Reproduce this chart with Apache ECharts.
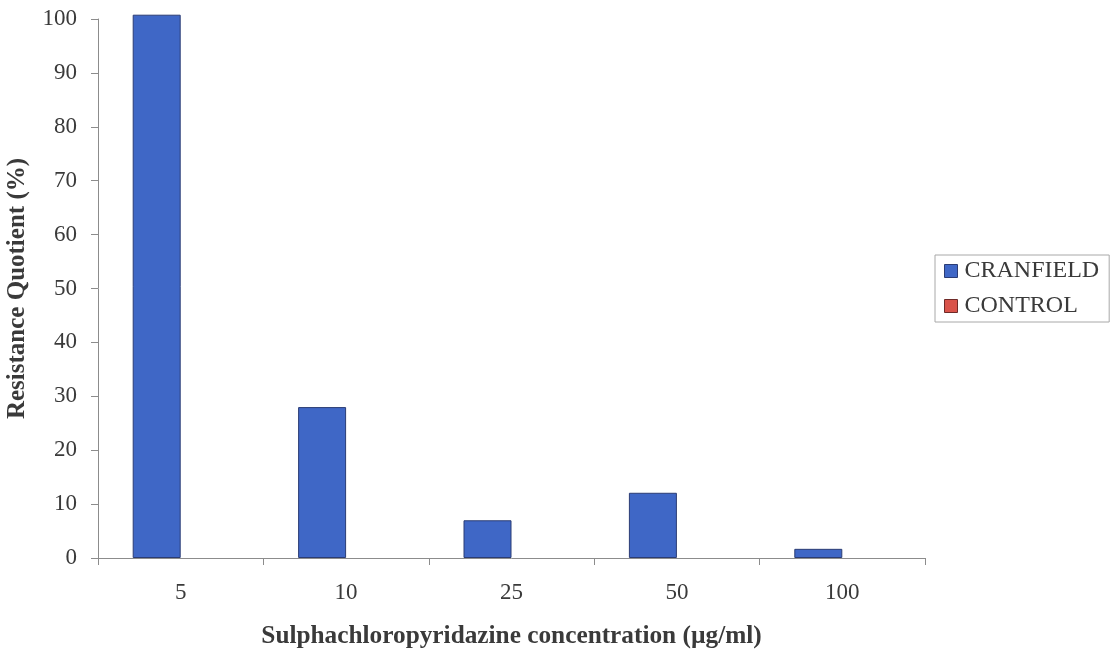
<!DOCTYPE html>
<html>
<head>
<meta charset="utf-8">
<script src="https://cdn.jsdelivr.net/npm/echarts@6/dist/echarts.min.js"></script>
<style>
  html, body { margin: 0; padding: 0; background: #ffffff; }
  #chart { width: 1115px; height: 659px; }
</style>
</head>
<body>
<div id="chart"></div>
<script>
// Sulphachloropyridazine concentrations (µg/ml)
const concentrations = ['5', '10', '25', '50', '100'];
// Resistance quotient (%) per strain
const cranfield = [100.8, 28.0, 7.0, 12.1, 1.7];
const control = [0, 0, 0, 0, 0];
const yTicks = { min: 0, max: 100, interval: 10 };

const serif = '"Liberation Serif", "DejaVu Serif", serif';
const textColor = '#3a3a3a';
const chart = echarts.init(document.getElementById('chart'), null, { renderer: 'canvas' });

chart.setOption({
  animation: false,
  backgroundColor: '#ffffff',
  textStyle: { fontFamily: serif },
  grid: { left: 98, right: 190, top: 19, bottom: 101, containLabel: false, outerBoundsMode: 'none' },
  legend: {
    orient: 'vertical',
    left: 935,
    top: 255,
    padding: [4, 10, 4, 9],
    itemGap: 11,
    itemWidth: 13,
    itemHeight: 13,
    borderColor: '#a8a8a8',
    borderWidth: 1,
    textStyle: { fontFamily: serif, fontSize: 24, color: textColor, padding: [0, 0, 0, 2] },
    data: [
      { name: 'CRANFIELD', icon: 'rect', itemStyle: { color: '#3f67c6', borderColor: '#2b3c74', borderWidth: 1 } },
      { name: 'CONTROL', icon: 'rect', itemStyle: { color: '#d9534a', borderColor: '#6e2a28', borderWidth: 1 } }
    ]
  },
  xAxis: {
    type: 'category',
    data: concentrations,
    boundaryGap: true,
    axisLine: { lineStyle: { color: '#8c8c8c', width: 1 } },
    axisTick: { show: true, alignWithLabel: false, length: 7, lineStyle: { color: '#8c8c8c' } },
    axisLabel: { fontFamily: serif, fontSize: 23, color: textColor, margin: 23 },
    name: 'Sulphachloropyridazine concentration (µg/ml)',
    nameLocation: 'middle',
    nameGap: 66,
    nameTextStyle: { fontFamily: serif, fontSize: 25.3, fontWeight: 'bold', color: textColor }
  },
  yAxis: {
    type: 'value',
    min: yTicks.min,
    max: yTicks.max,
    interval: yTicks.interval,
    splitLine: { show: false },
    axisLine: { show: true, lineStyle: { color: '#8c8c8c', width: 1 } },
    axisTick: { show: true, length: 7, lineStyle: { color: '#8c8c8c' } },
    axisLabel: { fontFamily: serif, fontSize: 23, color: textColor, margin: 21 },
    name: 'Resistance Quotient (%)',
    nameLocation: 'middle',
    nameGap: 68,
    nameRotate: 90,
    nameTextStyle: { fontFamily: serif, fontSize: 25, fontWeight: 'bold', color: textColor }
  },
  series: [
    {
      name: 'CRANFIELD',
      type: 'bar',
      data: cranfield,
      barWidth: 48,
      barGap: '0%',
      clip: false,
      itemStyle: { color: '#3f67c6', borderColor: '#2b3c74', borderWidth: 1 }
    },
    {
      name: 'CONTROL',
      type: 'bar',
      data: control,
      barWidth: 48,
      barGap: '0%',
      clip: false,
      itemStyle: { color: '#d9534a', borderColor: '#6e2a28', borderWidth: 0 }
    }
  ]
});
</script>
</body>
</html>
